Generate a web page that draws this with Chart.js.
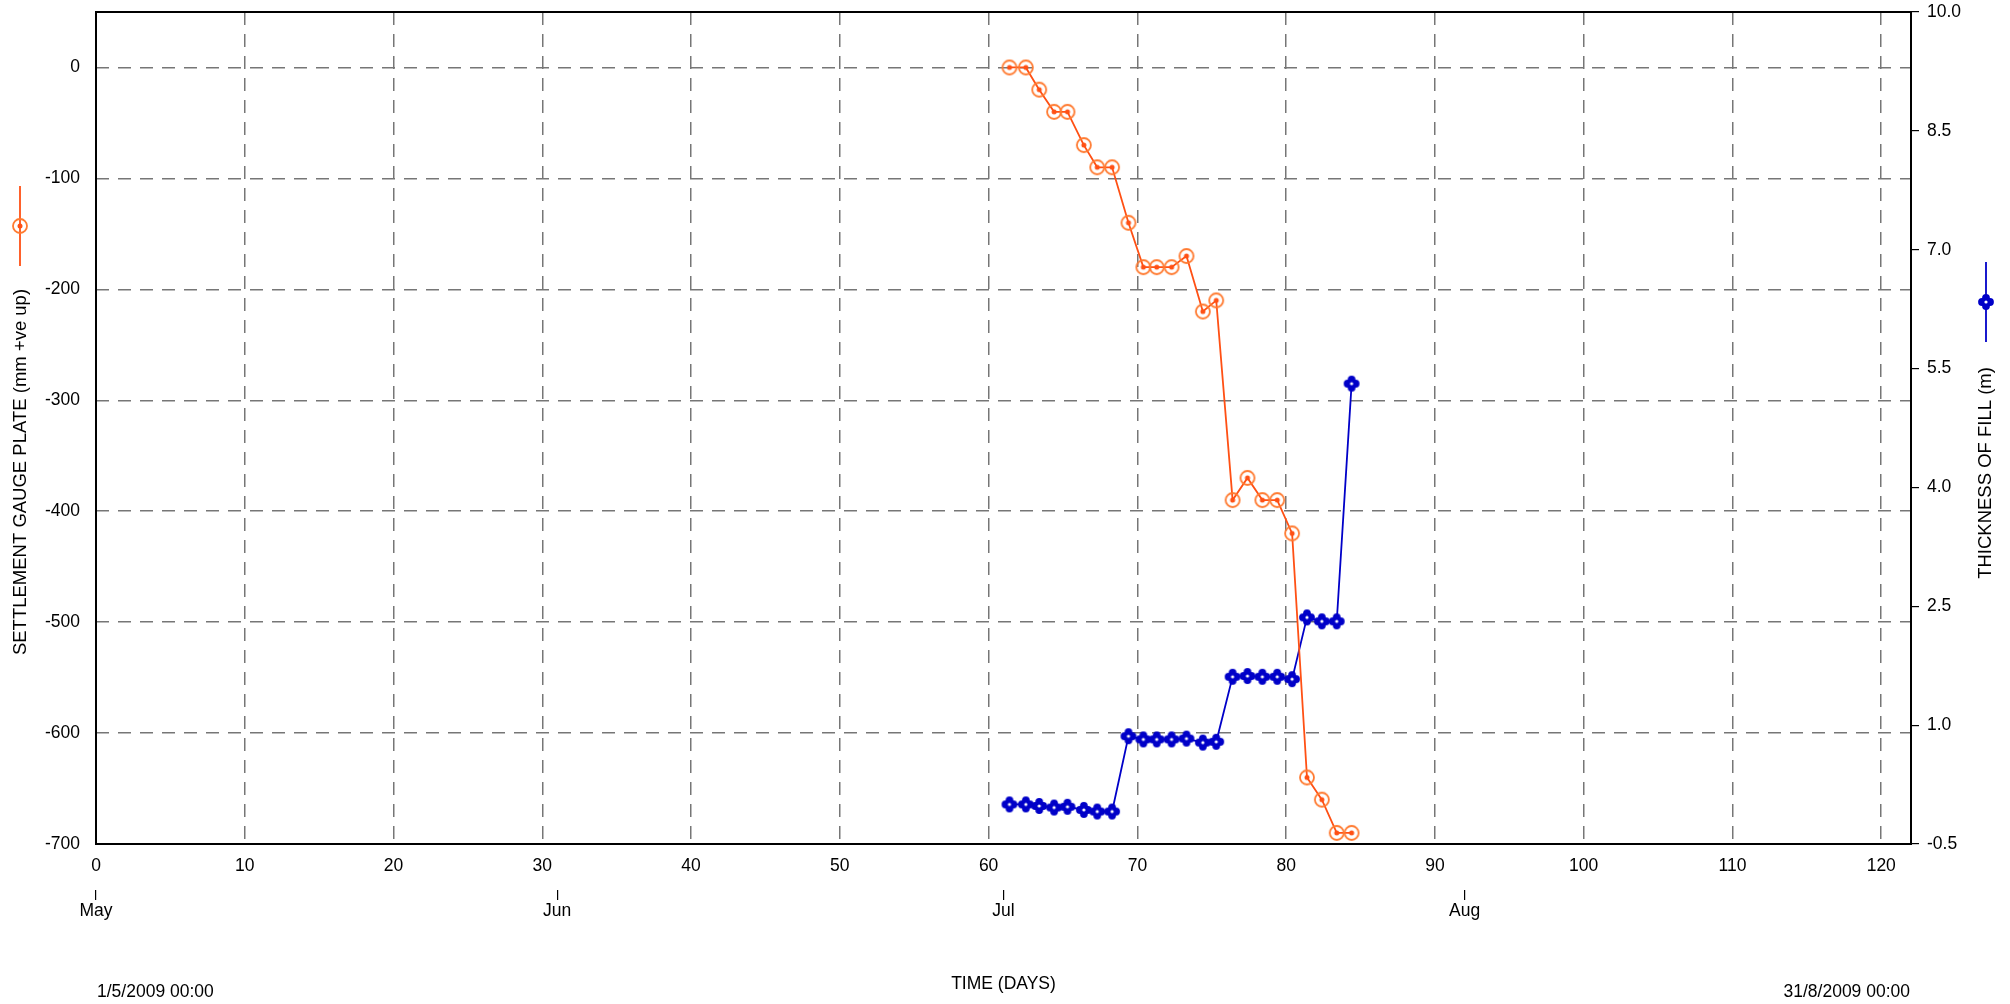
<!DOCTYPE html>
<html>
<head>
<meta charset="utf-8">
<script src="https://cdn.jsdelivr.net/npm/chart.js@4/dist/chart.umd.min.js"></script>
<style>
  html, body { margin: 0; padding: 0; background: #fff; }
  #wrap { width: 2010px; height: 1004px; }
</style>
</head>
<body>
<div id="wrap"><canvas id="chart" width="2010" height="1004"></canvas></div>
<script>
// --- data ---
const days = [61.4, 62.5, 63.4, 64.4, 65.3, 66.4, 67.3, 68.3, 69.4, 70.4, 71.3, 72.3,
              73.3, 74.4, 75.3, 76.4, 77.4, 78.4, 79.4, 80.4, 81.4, 82.4, 83.4, 84.4];
const settlement = [0, 0, -20, -40, -40, -70, -90, -90, -140, -180, -180, -180,
                    -170, -220, -210, -390, -370, -390, -390, -420, -640, -660, -690, -690];
const fillThickness = [0.0, 0.0, -0.02, -0.04, -0.03, -0.07, -0.09, -0.09, 0.86, 0.82, 0.82, 0.82,
                       0.83, 0.78, 0.79, 1.61, 1.62, 1.61, 1.61, 1.58, 2.36, 2.31, 2.31, 5.31];
const monthDays = [0, 31, 61, 92];
const monthNames = ['May', 'Jun', 'Jul', 'Aug'];
const startLabel = '1/5/2009 00:00';
const endLabel = '31/8/2009 00:00';

const FONT = '"Liberation Sans", Arial, sans-serif';
const ORANGE = '#ff5014';
const BLUE = '#0000c8';
const GRID = '#767676';

// --- marker images ---
function circleMarker() {
  const c = document.createElement('canvas');
  c.width = 20; c.height = 20;
  const g = c.getContext('2d');
  g.strokeStyle = '#ff7a30'; g.lineWidth = 1.8;
  g.beginPath(); g.arc(10, 10, 7, 0, Math.PI * 2); g.stroke();
  g.fillStyle = ORANGE;
  g.beginPath(); g.arc(10, 10, 2.5, 0, Math.PI * 2); g.fill();
  return c;
}
function crossMarker() {
  const c = document.createElement('canvas');
  c.width = 20; c.height = 20;
  const g = c.getContext('2d');
  g.fillStyle = BLUE;
  [[10, 6], [10, 14], [6, 10], [14, 10]].forEach(([x, y]) => {
    g.beginPath(); g.arc(x, y, 3.9, 0, Math.PI * 2); g.fill();
  });
  g.fillRect(6, 6, 8, 8);
  g.fillStyle = '#fff';
  g.beginPath(); g.arc(10, 10, 1.6, 0, Math.PI * 2); g.fill();
  return c;
}
const mCircle = circleMarker();
const mCross = crossMarker();

// --- frame, titles, legend symbols, date labels ---
const decor = {
  id: 'decor',
  afterDraw(chart) {
    const ctx = chart.ctx, a = chart.chartArea;
    ctx.save();
    ctx.strokeStyle = '#000'; ctx.lineWidth = 2;
    ctx.strokeRect(a.left, a.top, a.right - a.left, a.bottom - a.top);

    ctx.fillStyle = '#000';
    ctx.textBaseline = 'middle';
    ctx.font = '18.5px ' + FONT;
    ctx.save();
    ctx.translate(21, 472); ctx.rotate(-Math.PI / 2);
    ctx.textAlign = 'center';
    ctx.fillText('SETTLEMENT GAUGE PLATE (mm +ve up)', 0, 0);
    ctx.restore();
    ctx.save();
    ctx.translate(1986, 473); ctx.rotate(-Math.PI / 2);
    ctx.textAlign = 'center';
    ctx.fillText('THICKNESS OF FILL (m)', 0, 0);
    ctx.restore();

    // legend symbols
    ctx.lineWidth = 1.8;
    ctx.strokeStyle = ORANGE;
    ctx.beginPath(); ctx.moveTo(20, 186); ctx.lineTo(20, 266); ctx.stroke();
    ctx.drawImage(mCircle, 20 - 10, 226 - 10);
    ctx.strokeStyle = BLUE;
    ctx.beginPath(); ctx.moveTo(1986, 262); ctx.lineTo(1986, 342); ctx.stroke();
    ctx.drawImage(mCross, 1986 - 10, 302 - 10);

    ctx.font = '17.5px ' + FONT;
    ctx.textAlign = 'left';
    ctx.fillText(startLabel, a.left + 1, 992);
    ctx.textAlign = 'right';
    ctx.fillText(endLabel, a.right - 1, 992);
    ctx.textAlign = 'center';
    ctx.fillText('TIME (DAYS)', (a.left + a.right) / 2, 984);
    ctx.restore();
  }
};

const tickFont = { family: FONT, size: 17.5 };

new Chart(document.getElementById('chart'), {
  type: 'line',
  data: {
    datasets: [
      {
        label: 'SETTLEMENT GAUGE PLATE',
        data: days.map((d, i) => ({ x: d, y: settlement[i] })),
        yAxisID: 'y',
        borderColor: ORANGE,
        borderWidth: 1.8,
        pointStyle: mCircle,
        pointRadius: 9,
        fill: false,
        tension: 0
      },
      {
        label: 'THICKNESS OF FILL',
        data: days.map((d, i) => ({ x: d, y: fillThickness[i] })),
        yAxisID: 'y2',
        borderColor: BLUE,
        borderWidth: 1.8,
        pointStyle: mCross,
        pointRadius: 9,
        fill: false,
        tension: 0
      }
    ]
  },
  options: {
    responsive: false,
    animation: false,
    devicePixelRatio: 1,
    layout: { padding: { left: 0, right: 0, top: 12, bottom: 0 } },
    plugins: { legend: { display: false }, title: { display: false }, tooltip: { enabled: false } },
    scales: {
      x: {
        type: 'linear', position: 'bottom', min: 0, max: 122, weight: 0,
        ticks: { stepSize: 10, includeBounds: false, color: '#000', font: tickFont, padding: 12, maxRotation: 0 },
        grid: { color: GRID, lineWidth: 1.5, drawTicks: false },
        border: { display: false, dash: [13, 9] },
        afterFit(s) { s.height = 46; s.paddingLeft = 0; s.paddingRight = 0; }
      },
      months: {
        type: 'linear', position: 'bottom', min: 0, max: 122, weight: 1,
        afterBuildTicks(s) { s.ticks = monthDays.map(v => ({ value: v })); },
        ticks: {
          color: '#000', font: tickFont, padding: 1, maxRotation: 0, autoSkip: false,
          callback: (v) => monthNames[monthDays.indexOf(v)]
        },
        grid: { drawOnChartArea: false, drawTicks: true, tickLength: 10, color: '#000', lineWidth: 1.2 },
        border: { display: false },
        afterFit(s) { s.height = 114; s.paddingLeft = 0; s.paddingRight = 0; }
      },
      y: {
        type: 'linear', position: 'left', min: -700, max: 50,
        ticks: { stepSize: 100, includeBounds: false, color: '#000', font: tickFont, padding: 16 },
        grid: { color: GRID, lineWidth: 1.5, drawTicks: false },
        border: { display: false, dash: [13, 9] },
        afterFit(s) { s.width = 96; s.paddingTop = 0; s.paddingBottom = 0; }
      },
      y2: {
        type: 'linear', position: 'right', min: -0.5, max: 10,
        ticks: { stepSize: 1.5, color: '#000', font: tickFont, padding: 8, callback: v => v.toFixed(1) },
        grid: { drawOnChartArea: false, drawTicks: true, tickLength: 8, color: '#000', lineWidth: 1.2 },
        border: { display: false },
        afterFit(s) { s.width = 99; s.paddingTop = 0; s.paddingBottom = 0; }
      }
    }
  },
  plugins: [decor]
});
</script>
</body>
</html>
